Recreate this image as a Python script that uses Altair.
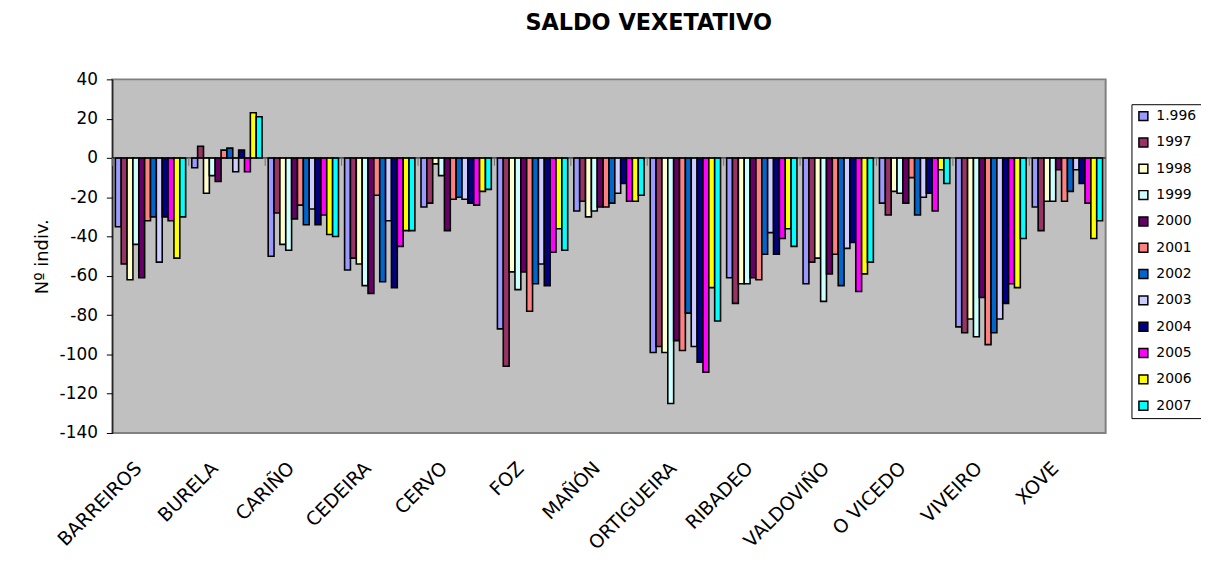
import altair as alt
import pandas as pd

municipios = ["BARREIROS", "BURELA", "CARIÑO", "CEDEIRA", "CERVO", "FOZ", "MAÑÓN",
              "ORTIGUEIRA", "RIBADEO", "VALDOVIÑO", "O VICEDO", "VIVEIRO", "XOVE"]
anos = ["1.996", "1997", "1998", "1999", "2000", "2001", "2002", "2003",
        "2004", "2005", "2006", "2007"]
cores = ["#9999FF", "#993366", "#FFFFCC", "#CCFFFF", "#660066", "#FF8080",
         "#0066CC", "#CCCCFF", "#000080", "#FF00FF", "#FFFF00", "#00FFFF"]
y_ticks = [-140, -120, -100, -80, -60, -40, -20, 0, 20, 40]

y1996 = [-35, -5, -50, -57, -25, -87, -27, -99, -61, -64, -23, -86, -25]
y1997 = [-54, 6, -28, -51, -23, -106, -22, -96, -74, -53, -29, -89, -37]
y1998 = [-62, -18, -44, -54, -3, -58, -30, -99, -64, -51, -17, -82, -22]
y1999 = [-44, -9, -47, -65, -9, -67, -27, -125, -64, -73, -18, -91, -22]
y2000 = [-61, -12, -31, -69, -37, -58, -25, -93, -61, -59, -23, -71, -6]
y2001 = [-32, 4, -24, -19, -21, -78, -25, -98, -62, -49, -10, -95, -22]
y2002 = [-30, 5, -34, -63, -20, -64, -23, -79, -49, -65, -29, -89, -17]
y2003 = [-53, -7, -26, -32, -21, -54, -18, -96, -38, -46, -20, -82, -6]
y2004 = [-30, 4, -34, -66, -23, -65, -13, -104, -49, -43, -18, -74, -13]
y2005 = [-32, -7, -29, -45, -24, -48, -22, -109, -41, -68, -27, -64, -23]
y2006 = [-51, 23, -39, -37, -17, -36, -22, -66, -36, -59, -6, -66, -41]
y2007 = [-30, 21, -40, -37, -16, -47, -19, -83, -45, -53, -13, -41, -32]

series = [y1996, y1997, y1998, y1999, y2000, y2001, y2002, y2003,
          y2004, y2005, y2006, y2007]

rows = []
for ano, vals in zip(anos, series):
    for m, v in zip(municipios, vals):
        rows.append({"mun": m, "ano": ano, "v": v})
df = pd.DataFrame(rows)

FONT = "DejaVu Sans"

y_axis = alt.Axis(title="Nº indiv.", values=y_ticks,
                  labelExpr="'' + datum.value", labelOverlap=False,
                  grid=False, labelFontSize=17, labelFont=FONT,
                  labelColor="black", tickColor="black", tickSize=6,
                  labelPadding=9,
                  domainColor="black", domainWidth=1,
                  titleFontSize=18, titleFont=FONT,
                  titleFontWeight="normal", titleColor="black",
                  titlePadding=8)
y_scale = alt.Scale(domain=[-140, 40], nice=False)

bars = alt.Chart(df).mark_bar(stroke="black", strokeWidth=1.6).encode(
    x=alt.X("mun:N", sort=municipios,
            scale=alt.Scale(paddingInner=0.08, paddingOuter=0.04),
            axis=alt.Axis(title=None, labelAngle=-45, labelAlign="right",
                          labelBaseline="middle", labelFontSize=19,
                          labelFont=FONT, labelColor="black", labelPadding=32,
                          labelOffset=-12,
                          labelOverlap=False, domain=False, ticks=False)),
    xOffset=alt.XOffset("ano:N", sort=anos),
    y=alt.Y("v:Q", scale=y_scale, axis=y_axis),
    color=alt.Color("ano:N", sort=anos,
                    scale=alt.Scale(domain=anos, range=cores),
                    legend=alt.Legend(title=None, orient="none", legendX=1026,
                                      legendY=25, strokeColor="black",
                                      fillColor="white", padding=5,
                                      rowPadding=10.5, labelFontSize=14,
                                      labelFont=FONT, labelColor="black",
                                      symbolType="square", symbolSize=81,
                                      symbolStrokeColor="black",
                                      symbolStrokeWidth=1.5, labelOffset=6)),
)

zero = alt.Chart(pd.DataFrame({"v": [0]})).mark_rule(
    color="black", strokeWidth=1).encode(
    y=alt.Y("v:Q", scale=y_scale, axis=y_axis))

ticks_df = pd.DataFrame({"mun": municipios, "v": [0] * 13, "b": [-4] * 13})
zero_ticks = alt.Chart(ticks_df).mark_rule(
    color="#707070", strokeWidth=1, xOffset=-3).encode(
    x=alt.X("mun:N", sort=municipios, bandPosition=0),
    y=alt.Y("v:Q", scale=y_scale, axis=y_axis), y2="b:Q")

chart = alt.layer(bars, zero, zero_ticks).properties(
    width=1000, height=356,
    padding={"left": 105, "top": 70, "right": 96, "bottom": 127},
    autosize=alt.AutoSizeParams(type="none"),
    title=alt.TitleParams("SALDO VEXETATIVO", fontSize=22.5, font=FONT,
                          fontWeight="bold", anchor="middle", offset=36,
                          dx=40, color="black"),
).configure_view(fill="#C0C0C0", stroke="#808080", strokeWidth=2
).configure_axis(labelOverlap=False)

chart.save("out.html", embed_options={"renderer": "svg", "actions": False})
